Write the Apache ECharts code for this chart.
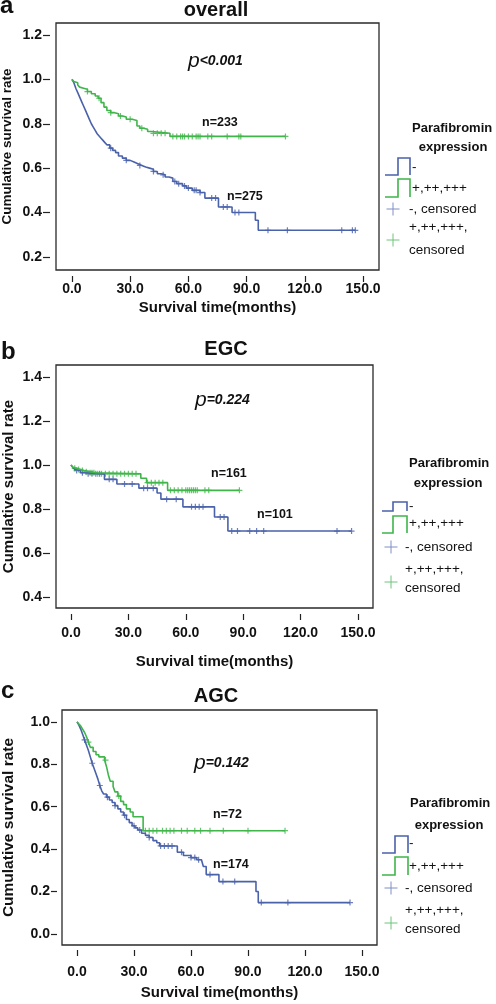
<!DOCTYPE html>
<html><head><meta charset="utf-8">
<script src="https://cdn.jsdelivr.net/npm/echarts@6/dist/echarts.min.js"></script>
<style>html,body{margin:0;padding:0;background:#fff}#c{width:496px;height:1004px}</style>
</head><body><div id="c"></div>
<script>
// ---------- data ----------
const xTicks = [0, 30, 60, 90, 120, 150];
const yTicksA = [0.2, 0.4, 0.6, 0.8, 1.0, 1.2];
const yTicksB = [0.4, 0.6, 0.8, 1.0, 1.2, 1.4];
const yTicksC = [0.0, 0.2, 0.4, 0.6, 0.8, 1.0];

// Panel a: overall
const aNegT = [0,1,2,3,4,5,6,7,8,9,10,11,12,13,14,15,16,17,18,19.5,21,22.5,24,26,28,30,32,34,36,38,40,42,44,46,48,50,52,54,57,59,62,66,68.5,75.5,82.5,94.5,96,146];
const aNegS = [1.0,0.985,0.96,0.94,0.92,0.90,0.88,0.86,0.84,0.82,0.80,0.785,0.77,0.755,0.745,0.735,0.725,0.715,0.705,0.69,0.68,0.67,0.655,0.645,0.635,0.628,0.62,0.612,0.605,0.60,0.595,0.585,0.575,0.57,0.56,0.555,0.54,0.53,0.52,0.51,0.50,0.49,0.465,0.425,0.40,0.365,0.32,0.32];
const aNegCens = [20,28,35,42,47,53,55,58,60,63,64,66,72,74,78,80,84,86,101,111,139,144.5,146];
const aPosT = [0,1,2,3,4,5,6,8,10,12,13.5,15,16.5,18,20,22,24,26,28,31,33.5,35,37,39,41,50.5,110];
const aPosS = [1.0,0.99,0.985,0.975,0.965,0.96,0.955,0.945,0.935,0.925,0.915,0.895,0.875,0.86,0.85,0.845,0.835,0.83,0.82,0.815,0.79,0.78,0.775,0.765,0.757,0.743,0.743];
const aPosCens = [8,14,20,25,30,36,42,44,46,48,52,54,56,57,58,60,62,64,65,66,70,72,80,86,87,110];

// Panel b: EGC
const bNegT = [0,1,2,3,5,7,17.5,24,35.5,45,47,58.5,75,82,146.6];
const bNegS = [1.0,0.99,0.98,0.975,0.965,0.96,0.935,0.914,0.895,0.873,0.845,0.81,0.764,0.70,0.70];
const bNegCens = [3,6,9,11,13,15,20,22,28,32,38,40,43,50,55,63,65,67,69,78,80,84,87,93.4,97,100.7,139,146.6];
const bPosT = [0,1,2,3,5,7,10,13,36.5,39.5,50.5,88];
const bPosS = [1.0,0.99,0.985,0.98,0.975,0.97,0.965,0.96,0.94,0.92,0.885,0.885];
const bPosCens = [2,4,6,8,10,11,12,14,16,18,20,22,24,26,28,30,32,34,40,42,44,46,48,52,54,56,58,60,61,62,63,64,65,66,70,72,88];

// Panel c: AGC
const cNegT = [0,1,2,3,4,5,6,7,8,9,10,11,12,13,14,15.5,17,18.5,20,21.5,23,24.5,26,27.5,29,30.5,32,34,36,38,40,42,43.5,52.8,56,60,63,65.5,66.5,68,74.7,94.2,95.4,143.7];
const cNegS = [1.0,0.985,0.965,0.94,0.915,0.89,0.865,0.835,0.805,0.78,0.755,0.73,0.70,0.675,0.66,0.645,0.632,0.62,0.605,0.59,0.575,0.56,0.54,0.525,0.51,0.50,0.49,0.475,0.465,0.455,0.44,0.43,0.415,0.385,0.37,0.36,0.35,0.342,0.318,0.28,0.247,0.20,0.148,0.148];
const cNegCens = [4,8,12,16,20,25,30,33,38,44,46,48,50,55,60,62,64,70,76.8,83,97,111,143.7];
const cPosT = [0,1,2,3,4,5,6,7,8.5,10,11.5,14.5,15.5,16.5,17.5,19,20,21.5,23,24.5,26,28,29.5,34.8,109.5];
const cPosS = [1.0,0.99,0.98,0.965,0.95,0.93,0.905,0.88,0.86,0.845,0.835,0.82,0.79,0.75,0.72,0.695,0.67,0.65,0.625,0.61,0.59,0.575,0.553,0.487,0.487];
const cPosCens = [6,15,22,36,38,40,42,45,47,49,51,55,58,62,65,70,77,90,109.5];

// ---------- build ----------
const BLUE = '#4a62aa', GREEN = '#3fb54a';
const FONT = '"Liberation Sans", Arial, sans-serif';
const CROSS = 'path://M4,0h2v4h4v2h-4v4h-2v-4h-4v-2h4z';

function pairs(T, S) { return T.map((t, i) => [t, S[i]]); }
function survAt(T, S, t) { let v = S[0]; for (let i = 0; i < T.length; i++) { if (T[i] <= t) v = S[i]; } return v; }
function cens(T, S, C) { return C.map(t => [t, survAt(T, S, t)]); }

const panels = [
  { grid: {left:56, top:23, width:323, height:247}, xr:[-8.2,158.2], yr:[0.141,1.254], yt:yTicksA,
    xOff:6, xTick:6, xMargin:6, xGap:24, yOff:6, yTick:7, yMargin:8, yGap:36, yNameSize:13.5,
    neg:[aNegT,aNegS,aNegCens], pos:[aPosT,aPosS,aPosCens] },
  { grid: {left:56, top:365, width:317, height:243}, xr:[-7.8,157.8], yr:[0.35,1.455], yt:yTicksB,
    xOff:6, xTick:6, xMargin:12, xGap:40, yOff:6, yTick:7, yMargin:8, yGap:34, yNameSize:15,
    neg:[bNegT,bNegS,bNegCens], pos:[bPosT,bPosS,bPosCens] },
  { grid: {left:62, top:710, width:315, height:235}, xr:[-7.9,157.9], yr:[-0.052,1.056], yt:yTicksC,
    xOff:5, xTick:6, xMargin:15, xGap:35, yOff:5, yTick:6, yMargin:7, yGap:40, yNameSize:15.5,
    neg:[cNegT,cNegS,cNegCens], pos:[cPosT,cPosS,cPosCens] }
];

const grids = [], xAxes = [], yAxes = [], series = [];
panels.forEach((p, i) => {
  grids.push(Object.assign({ show:true, borderColor:'#2a2a2a', borderWidth:1.3, backgroundColor:'#fff',
    containLabel:false, outerBoundsMode:'none' }, p.grid));
  xAxes.push({ type:'value', gridIndex:i, position:'bottom', min:p.xr[0], max:p.xr[1], offset:p.xOff,
    axisLine:{show:false, onZero:false}, splitLine:{show:false},
    axisTick:{show:true, length:p.xTick, customValues:xTicks, lineStyle:{color:'#222', width:1.2}},
    axisLabel:{customValues:xTicks, margin:p.xMargin, formatter:v => v.toFixed(1), color:'#111', fontWeight:'bold', fontSize:14, fontFamily:FONT},
    name:'Survival time(months)', nameLocation:'middle', nameGap:p.xGap, nameMoveOverlap:false,
    nameTextStyle:{color:'#111', fontWeight:'bold', fontSize:15, fontFamily:FONT} });
  yAxes.push({ type:'value', gridIndex:i, position:'left', min:p.yr[0], max:p.yr[1], offset:p.yOff,
    axisLine:{show:false, onZero:false}, splitLine:{show:false},
    axisTick:{show:true, length:p.yTick, customValues:p.yt, lineStyle:{color:'#222', width:1.2}},
    axisLabel:{customValues:p.yt, margin:p.yMargin, formatter:v => v.toFixed(1), color:'#111', fontWeight:'bold', fontSize:14, fontFamily:FONT},
    name:'Cumulative survival rate', nameLocation:'middle', nameGap:p.yGap, nameMoveOverlap:false,
    nameTextStyle:{color:'#111', fontWeight:'bold', fontSize:p.yNameSize, fontFamily:FONT} });
  [[p.neg, BLUE], [p.pos, GREEN]].forEach(([d, col]) => {
    series.push({ type:'line', xAxisIndex:i, yAxisIndex:i, step:'end', showSymbol:false, symbol:'none',
      data:pairs(d[0], d[1]), lineStyle:{color:col, width:1.6}, silent:true });
    series.push({ type:'scatter', xAxisIndex:i, yAxisIndex:i, symbol:CROSS, symbolSize:6,
      data:cens(d[0], d[1], d[2]), itemStyle:{color:col}, silent:true });
  });
});

// ---------- texts & legends ----------
const g = [];
function txt(x, y, s, st) { g.push({ type:'text', x, y, style:Object.assign({ text:s, fill:'#111', font:'bold 13px ' + FONT, textVerticalAlign:'middle' }, st) }); }
function pTxt(x, y, val) {
  g.push({ type:'text', x, y, style:{ text:'{p|p}{v|' + val + '}', textVerticalAlign:'middle',
    rich:{ p:{ fontSize:21, fontStyle:'italic', fontFamily:FONT, fill:'#111' },
           v:{ fontSize:14, fontStyle:'italic', fontWeight:'bold', fontFamily:FONT, fill:'#111' } } } });
}
// panel letters and titles
txt(0, 6, 'a', { font:'bold 24px ' + FONT });
txt(216, 10, 'overall', { font:'bold 20px ' + FONT, textAlign:'center' });
txt(1, 352, 'b', { font:'bold 24px ' + FONT });
txt(226, 349, 'EGC', { font:'bold 20px ' + FONT, textAlign:'center' });
txt(1, 691, 'c', { font:'bold 24px ' + FONT });
txt(216, 696, 'AGC', { font:'bold 20px ' + FONT, textAlign:'center' });
// p values
pTxt(188, 61, '<0.001');
pTxt(195, 400, '=0.224');
pTxt(194, 763, '=0.142');
// n labels
txt(202, 123, 'n=233', { font:'bold 12.5px ' + FONT });
txt(227, 197, 'n=275', { font:'bold 12.5px ' + FONT });
txt(211, 474, 'n=161', { font:'bold 12.5px ' + FONT });
txt(257, 515, 'n=101', { font:'bold 12.5px ' + FONT });
txt(213, 815, 'n=72', { font:'bold 12.5px ' + FONT });
txt(213, 865, 'n=174', { font:'bold 12.5px ' + FONT });

function legend(L) {
  txt(L.tx, L.t1, 'Parafibromin', { font:'bold 13px ' + FONT });
  txt(L.ec, L.t2, 'expression', { font:'bold 13px ' + FONT, textAlign:'center' });
  [[L.b, BLUE], [L.gr, GREEN]].forEach(([yy, col]) => {
    g.push({ type:'polyline', shape:{ points:[[L.ix[0], yy[1]], [L.ix[1], yy[1]], [L.ix[1], yy[0]], [L.ix[2], yy[0]], [L.ix[2], yy[1]]] },
      style:{ stroke:col, lineWidth:1.6, fill:null } });
  });
  const reg = '13.5px ' + FONT;
  txt(L.lx, L.ly[0], '-', { font:reg });
  txt(L.lx, L.ly[1], '+,++,+++', { font:reg });
  [[L.cy[0], '#7f8fc6'], [L.cy[1], '#6cc47a']].forEach(([cy, col]) => {
    g.push({ type:'line', shape:{ x1:L.cx - 6.5, y1:cy, x2:L.cx + 6.5, y2:cy }, style:{ stroke:col, lineWidth:1 } });
    g.push({ type:'line', shape:{ x1:L.cx, y1:cy - 6.5, x2:L.cx, y2:cy + 6.5 }, style:{ stroke:col, lineWidth:1 } });
  });
  txt(L.clx, L.cly[0], '-, censored', { font:reg });
  txt(L.clx, L.cly[1], '+,++,+++,', { font:reg });
  txt(L.clx, L.cly[2], 'censored', { font:reg });
}
legend({ tx:412, t1:128, ec:453, t2:147, ix:[385,398,410], b:[158,175], gr:[179,197], lx:412, ly:[167,188],
  cx:393, cy:[209,240], clx:409, cly:[209,227,250] });
legend({ tx:409, t1:463, ec:448, t2:483, ix:[382,393,407], b:[502,511], gr:[516,533], lx:409, ly:[506,523],
  cx:391, cy:[547,582], clx:405, cly:[547,569,588] });
legend({ tx:410, t1:803, ec:449, t2:825, ix:[382,395,408], b:[836,853], gr:[857,875], lx:409, ly:[843,866],
  cx:391, cy:[888,923], clx:405, cly:[888,910,929] });

const chart = echarts.init(document.getElementById('c'), null, { renderer:'canvas' });
chart.setOption({ animation:false, backgroundColor:'#fff', grid:grids, xAxis:xAxes, yAxis:yAxes, series, graphic:g });
</script></body></html>
